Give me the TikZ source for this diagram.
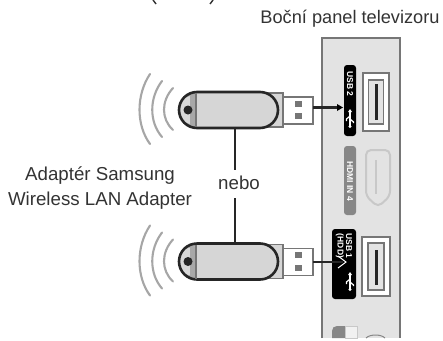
\documentclass[tikz,border=0pt]{standalone}
\usepackage{fontspec}
\setmainfont{Liberation Sans}
\definecolor{panelfill}{HTML}{E3E3E3}
\definecolor{panelline}{HTML}{767676}
\definecolor{inkdark}{HTML}{262626}
\definecolor{bodyfill}{HTML}{D6D6D6}
\definecolor{capfill}{HTML}{A8A8A8}
\definecolor{wavecol}{HTML}{A6A6A6}
\definecolor{hdmicol}{HTML}{878787}
\definecolor{hdmiline}{HTML}{C8C8C8}
\definecolor{captioncol}{HTML}{333333}
\tikzset{
  x=1pt, y=-1pt,
  caption/.style={font=\fontsize{18.7}{22}\selectfont, text=captioncol, inner sep=0pt, anchor=base},
  sidelabel/.style={draw=none, fill=black, rounded corners=3pt, minimum width=12pt, inner sep=0pt, outer sep=0pt},
  portouter/.style={draw=panelline, line width=1.6pt, fill=white, minimum width=26pt, inner sep=0pt, outer sep=0pt},
  portinner/.style={draw=panelline, line width=1.6pt, fill=panelfill, minimum width=15pt, inner sep=0pt, outer sep=0pt},
  portslot/.style={fill=inkdark, minimum width=3pt, inner sep=0pt, outer sep=0pt},
  lead/.style={draw=inkdark, line width=2.3pt},
  wave/.style={draw=wavecol, line width=2.1pt, line cap=round},
  tinytext/.style={font=\bfseries\fontsize{8.5}{8.5}\selectfont, text=white, inner sep=0pt, rotate=-90, align=center},
  pics/usbstick/.style={code={
    % plug and collar sit behind the body
    \node[draw=panelline, line width=1.7pt, fill=white, minimum width=30pt, minimum height=27pt, inner sep=0pt, outer sep=0pt] (-plug) at (298,0.5) {};
    \fill[panelline] (294.5,-9.5) rectangle (301.5,-3.5);
    \fill[panelline] (294.5,3) rectangle (301.5,9);
    \filldraw[fill=bodyfill, draw=panelline, line width=1.7pt] (255,-17) rectangle (283,17);
    \node[minimum width=82pt, minimum height=36pt, inner sep=0pt, outer sep=0pt] (-body) at (237,0) {};
    \fill[bodyfill, rounded corners=18pt] (179,-18) rectangle (278,18);
    % end cap with its lanyard hole
    \begin{scope}
      \clip (178,-19) rectangle (196,19);
      \fill[capfill, rounded corners=18pt] (179,-18) rectangle (278,18);
      \fill[white!85!black] (183,-11) .. controls (179,-5) and (179,5) .. (183,11)
        .. controls (187,14) and (192,14) .. (196,15) -- (196,-15) .. controls (192,-14) and (187,-14) .. (183,-11);
      \fill[capfill] (190,-15) rectangle (196,15);
    \end{scope}
    \fill[inkdark] (188,0) circle[radius=4.5pt];
    \draw[draw=inkdark, line width=2.6pt, rounded corners=18pt] (179,-18) rectangle (278,18);
    \draw[panelline, line width=1.7pt] (196,-17) -- (196,17);
    % radio waves
    \draw[wave] (150,-36) .. controls (136,-15) and (136,15) .. (150,34);
    \draw[wave] (162,-29) .. controls (149,-12) and (149,12) .. (162,27);
    \draw[wave] (173,-22) .. controls (161,-9) and (161,9) .. (173,20);
  }},
  pics/usbmark/.style={code={
    \draw[white, line width=1.2pt] (0,-7) -- (0,8);
    \draw[white, line width=1.2pt] (0,-2) -- (-3.5,1) -- (-3.5,3);
    \draw[white, line width=1.2pt] (0,1) -- (3.5,4) -- (3.5,5);
    \fill[white] (0,-9) -- (2,-6) -- (-2,-6) -- cycle;
    \fill[white] (0,8.5) circle[radius=1.6pt];
  }}
}
\begin{document}
\begin{tikzpicture}
\useasboundingbox (0,0) rectangle (443,340);
\fill[white] (0,0) rectangle (443,340);

% remnants of the line above, cut by the top edge
\draw[captioncol, line width=1.4pt] (153,0) -- (156,4);
\draw[captioncol, line width=1.4pt] (213,0) -- (210,4);

% side panel
\fill[panelfill] (322,38) rectangle (400,338);
\draw[panelline, line width=2.3pt] (322,338) -- (322,38) -- (400,38) -- (400,338);

% USB 2 socket
\node[sidelabel, minimum height=71pt] (usbtwo) at (350,100.5) {};
\node[tinytext] (usbtwotext) at (350,84) {USB 2};
\pic at (350,118) {usbmark};
\node[portouter, minimum height=58pt] (porttwo) at (376,102) {};
\node[portinner, minimum height=44pt] (porttwoin) at (376,102) {};
\node[portslot, minimum height=36pt] (slottwo) at (376,102) {};

% HDMI socket
\node[sidelabel, fill=hdmicol, minimum height=69pt] (hdmilabel) at (350,180.5) {};
\node[tinytext] (hdmitext) at (350,181) {HDMI IN 4};
\draw[hdmiline, line width=2pt, rounded corners=5pt, fill=panelfill] (366,150) -- (390,150) -- (390,196) -- (378,207) -- (366,196) -- cycle;
\draw[hdmiline, line width=1.8pt] (376,160) -- (376,194);

% USB 1 socket
\node[sidelabel, minimum width=24pt, minimum height=70pt] (usbone) at (344,264) {};
\node[tinytext] (usbonetext) at (344,246) {USB 1\\(HDD)};
\pic at (350,281) {usbmark};
\node[portouter, minimum width=28pt, minimum height=59pt] (portone) at (376,266.5) {};
\node[portinner, minimum width=16pt, minimum height=47pt] (portonein) at (376,266.5) {};
\node[portslot, minimum height=35pt] (slotone) at (376,267) {};

% partial controls near the bottom of the panel
\fill[hdmicol] (332,338) -- (332,331) .. controls (332,328) and (334,326) .. (337,326) -- (345,326) -- (345,338) -- cycle;
\filldraw[fill=panelfill!50!white, draw=hdmiline, line width=1pt] (345,326) rectangle (357,338);
\draw[hdmicol, line width=1pt] (366,338) .. controls (370,334) and (381,334) .. (385,338);

% adapters
\pic (stickA) at (0,110) {usbstick};
\pic (stickB) at (0,261.5) {usbstick};

% captions
\node[caption, font=\fontsize{18.2}{22}\selectfont] (panelcaption) at (350,23) {Boční panel televizoru};
\node[caption] (adaptname) at (100,180) {Adaptér Samsung};
\node[caption] (adaptkind) at (100,205) {Wireless LAN Adapter};
\node[caption] (nebo) at (239,189) {nebo};

% alternative marker between the two adapters
\coordinate (gapTop) at (235,170);
\coordinate (gapBottom) at (235,198);
\draw[lead] (gapTop |- stickA-body.south) -- (gapTop);
\draw[lead] (gapBottom) -- (gapBottom |- stickB-body.north);

% leads from each plug to its socket label
\draw[lead] ([yshift=3pt]stickA-plug.east) -- +(27,0) coordinate (tipA);
\fill[black] (tipA) ++(3,0) -- ++(-6,-3.5) -- ++(0,7) -- cycle;
\draw[lead] (stickB-plug.east) -- +(30,0) coordinate (tipB);
\draw[white, line width=1pt] (tipB) ++(-5,-6) -- ++(8,6) -- ++(-8,6);
\end{tikzpicture}
\end{document}
